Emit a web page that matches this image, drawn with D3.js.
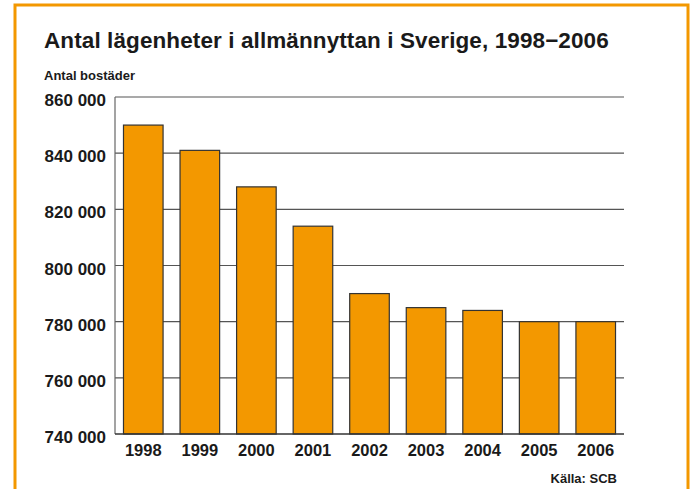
<!DOCTYPE html>
<html>
<head>
<meta charset="utf-8">
<script src="https://cdn.jsdelivr.net/npm/d3@7"></script>
<style>
  html, body { margin: 0; padding: 0; background: #fff; }
  svg text { font-family: "Liberation Sans", Arial, Helvetica, sans-serif; font-weight: bold; fill: #1a1a1a; }
</style>
</head>
<body>
<svg id="chart" width="694" height="489"></svg>
<script>
const years = ["1998", "1999", "2000", "2001", "2002", "2003", "2004", "2005", "2006"];
const values = [850000, 841000, 828000, 814000, 790000, 785000, 784000, 780000, 780000];
const yTicks = [740000, 760000, 780000, 800000, 820000, 840000, 860000];
const titleText = "Antal lägenheter i allmännyttan i Sverige, 1998−2006";
const yLabel = "Antal bostäder";
const sourceText = "Källa: SCB";

const svg = d3.select("#chart");
const orange = "#F39800";

// frame
svg.append("rect")
  .attr("x", 15).attr("y", 5)
  .attr("width", 673).attr("height", 520)
  .attr("fill", "none").attr("stroke", orange).attr("stroke-width", 3);

const x = d3.scaleBand().domain(years).range([115, 624]).paddingInner(0.3).paddingOuter(0.15);
const y = d3.scaleLinear().domain([740000, 860000]).range([434, 97]);

const fmt = v => d3.format(",")(v).replace(/,/g, " ");

// gridlines
svg.append("g").selectAll("line").data(yTicks.filter(v => v > 740000)).join("line")
  .attr("x1", 115).attr("x2", 624)
  .attr("y1", d => y(d)).attr("y2", d => y(d))
  .attr("stroke", "#555").attr("stroke-width", 1.2);

// y axis line
svg.append("line").attr("x1", 115).attr("x2", 115).attr("y1", y(860000)).attr("y2", y(740000))
  .attr("stroke", "#666").attr("stroke-width", 1.2);

// bars
svg.append("g").selectAll("rect").data(years).join("rect")
  .attr("x", d => x(d))
  .attr("width", x.bandwidth())
  .attr("y", (d, i) => y(values[i]))
  .attr("height", (d, i) => y(740000) - y(values[i]))
  .attr("fill", orange).attr("stroke", "#333").attr("stroke-width", 1.2);

// baseline
svg.append("line").attr("x1", 115).attr("x2", 624).attr("y1", y(740000)).attr("y2", y(740000))
  .attr("stroke", "#333").attr("stroke-width", 1.6);

// y tick labels
svg.append("g").selectAll("text").data(yTicks).join("text")
  .attr("x", 106).attr("y", d => y(d) + 9)
  .attr("text-anchor", "end").attr("font-size", 17)
  .text(d => fmt(d));

// x labels
svg.append("g").selectAll("text").data(years).join("text")
  .attr("x", d => x(d) + x.bandwidth() / 2).attr("y", 456)
  .attr("text-anchor", "middle").attr("font-size", 16.5)
  .text(d => d);

// title
svg.append("text").attr("x", 44).attr("y", 48).attr("font-size", 22.5)
  .attr("letter-spacing", 0.1).text(titleText);
svg.append("text").attr("x", 44).attr("y", 80).attr("font-size", 13).text(yLabel);
svg.append("text").attr("x", 617).attr("y", 483).attr("text-anchor", "end").attr("font-size", 13).text(sourceText);
</script>
</body>
</html>
